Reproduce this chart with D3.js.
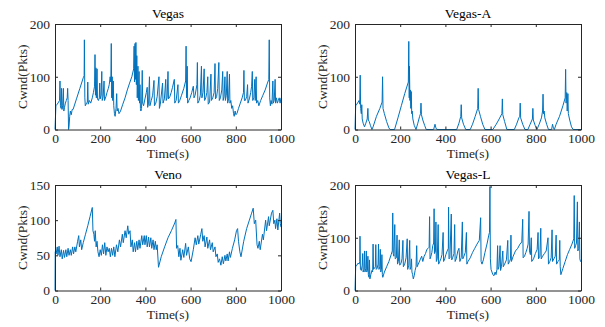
<!DOCTYPE html>
<html>
<head>
<meta charset="utf-8">
<script src="https://cdn.jsdelivr.net/npm/d3@7"></script>
<style>
  html, body { margin: 0; padding: 0; background: #fff; }
  svg { display: block; }
  svg text { font-family: 'Liberation Serif', 'Times New Roman', Times, serif; }
</style>
</head>
<body>
<div id="chart"></div>
<script>
// [time (s), cwnd (pkts)]
const vegas = [[0,0],[4,45],[10,48],[16,52],[20,55],[22,92],[24,45],[27,40],[29,78],[31,38],[34,45],[37,78],[39,35],[42,42],[46,50],[50,55],[54,60],[56,78],[58,55],[60,0],[62,5],[65,25],[68,35],[72,28],[76,38],[80,38],[95,58],[110,78],[125,98],[129,102],[130,170],[132,60],[134,45],[140,50],[143,52],[145,90],[147,48],[152,55],[158,50],[165,60],[170,70],[175,82],[177,142],[179,65],[181,117],[183,60],[186,115],[188,58],[192,55],[196,60],[198,88],[200,58],[204,65],[207,110],[209,55],[213,62],[217,92],[219,55],[225,62],[230,70],[236,78],[240,85],[244,100],[247,90],[249,163],[251,60],[253,100],[255,55],[258,92],[260,45],[263,30],[266,25],[270,40],[273,68],[275,35],[279,40],[283,30],[290,35],[300,48],[310,60],[320,75],[330,88],[340,100],[348,115],[350,158],[352,90],[354,163],[356,95],[358,165],[360,85],[362,140],[364,60],[367,120],[369,55],[372,110],[374,50],[376,85],[378,40],[380,35],[383,40],[386,112],[388,50],[392,45],[398,58],[404,70],[408,80],[410,42],[414,50],[418,100],[420,45],[426,55],[432,65],[438,93],[440,45],[446,50],[452,62],[460,100],[462,40],[466,48],[476,88],[478,50],[484,58],[490,95],[492,55],[496,60],[500,110],[502,58],[508,62],[514,70],[520,80],[528,95],[530,50],[536,55],[544,85],[546,50],[552,55],[560,65],[570,78],[578,92],[580,158],[582,60],[585,120],[587,50],[592,55],[598,60],[605,70],[612,82],[615,60],[620,65],[628,85],[630,127],[632,50],[638,55],[643,65],[648,120],[650,60],[655,70],[660,115],[662,55],[667,60],[672,70],[676,100],[678,48],[684,52],[690,105],[692,55],[698,60],[704,70],[708,125],[710,58],[715,62],[720,78],[725,127],[727,55],[732,60],[738,75],[742,110],[744,55],[748,62],[752,100],[754,55],[758,65],[762,110],[764,50],[768,58],[772,105],[774,50],[778,55],[782,40],[786,45],[790,30],[793,25],[797,35],[800,28],[805,30],[812,40],[820,50],[828,60],[834,70],[836,112],[838,55],[842,55],[848,62],[852,85],[854,50],[860,58],[866,70],[870,82],[873,110],[875,55],[880,60],[884,95],[886,55],[890,100],[892,50],[897,55],[902,45],[910,55],[920,65],[930,75],[940,88],[946,95],[948,170],[950,60],[953,45],[956,55],[960,48],[964,92],[966,50],[970,55],[974,95],[976,50],[980,60],[984,50],[988,55],[992,60],[996,50],[1000,60]];

const vegasA = [[0,0],[3,45],[8,48],[14,52],[18,55],[21,48],[23,103],[25,40],[28,30],[30,47],[32,20],[36,12],[42,5],[48,12],[54,20],[57,40],[59,18],[63,15],[68,8],[75,0],[80,5],[95,25],[110,40],[120,52],[122,100],[124,40],[130,30],[140,15],[150,3],[155,0],[175,0],[190,22],[205,45],[220,68],[236,90],[238,167],[240,60],[241,120],[243,55],[245,75],[247,40],[249,72],[251,30],[253,35],[256,20],[262,8],[270,0],[278,12],[286,25],[290,30],[292,50],[294,28],[300,18],[308,8],[315,0],[348,0],[354,10],[358,3],[362,0],[450,0],[460,12],[468,25],[470,47],[472,22],[480,10],[490,0],[510,0],[520,10],[532,25],[543,40],[545,78],[547,38],[555,25],[565,10],[575,0],[610,0],[625,10],[638,20],[650,30],[652,58],[654,28],[662,15],[672,0],[705,0],[715,10],[725,22],[729,25],[731,50],[733,22],[742,10],[752,0],[765,0],[775,10],[785,20],[787,40],[789,18],[797,8],[805,0],[815,10],[825,22],[830,35],[832,67],[834,30],[837,35],[840,22],[848,10],[856,0],[870,0],[874,10],[878,3],[882,0],[890,10],[905,25],[920,45],[930,60],[932,114],[934,50],[937,70],[939,35],[942,68],[944,30],[950,18],[958,5],[965,0],[1000,0]];

const veno = [[0,0],[1,55],[5,52],[10,62],[13,50],[18,63],[22,48],[28,58],[32,45],[38,57],[42,47],[48,58],[52,48],[58,60],[62,50],[68,58],[72,50],[78,62],[82,52],[88,62],[92,55],[100,70],[105,78],[108,62],[114,72],[118,58],[125,68],[135,80],[145,92],[155,105],[165,118],[168,85],[172,80],[175,70],[178,85],[182,62],[186,70],[190,55],[195,48],[200,58],[205,50],[210,65],[215,52],[220,68],[225,50],[230,62],[235,55],[240,60],[245,48],[250,60],[255,50],[260,62],[265,48],[272,65],[278,55],[285,72],[290,62],[298,80],[302,68],[310,85],[315,75],[322,92],[326,80],[332,85],[336,62],[342,72],[346,55],[352,68],[356,55],[362,70],[366,58],[372,72],[376,60],[384,78],[388,65],[395,78],[398,65],[404,78],[408,62],[414,76],[418,62],[424,75],[428,60],[434,72],[438,58],[444,70],[448,58],[452,65],[458,33],[470,48],[485,62],[500,75],[515,85],[530,96],[535,101],[538,60],[543,64],[548,48],[553,60],[557,43],[565,58],[570,47],[578,67],[582,50],[590,62],[596,45],[602,41],[612,58],[620,75],[625,65],[632,78],[636,66],[645,80],[650,88],[654,70],[660,78],[664,62],[672,76],[676,60],[684,72],[688,58],[696,68],[700,55],[708,62],[712,48],[718,52],[722,40],[728,45],[734,36],[740,48],[745,38],[752,50],[756,42],[762,52],[766,42],[772,55],[776,47],[785,60],[795,72],[803,85],[808,88],[812,70],[818,55],[823,48],[835,70],[848,88],[860,100],[870,110],[877,117],[882,95],[888,100],[894,65],[898,60],[904,70],[908,58],[918,80],[922,72],[932,100],[936,85],[945,105],[948,92],[958,110],[964,114],[968,95],[973,100],[976,88],[982,102],[986,86],[994,110],[997,95],[1000,90]];

const vegasL = [[0,0],[3,45],[8,48],[14,52],[18,50],[21,55],[22,103],[24,40],[28,38],[32,48],[34,70],[36,35],[40,40],[42,75],[44,35],[48,42],[50,75],[52,35],[55,38],[57,65],[59,30],[62,25],[64,58],[66,22],[70,30],[75,38],[78,35],[80,88],[82,40],[86,42],[90,45],[92,87],[94,40],[98,42],[102,50],[104,88],[106,40],[110,45],[112,78],[114,35],[117,40],[119,68],[121,30],[123,25],[130,35],[140,45],[150,55],[160,68],[165,75],[167,147],[169,70],[172,65],[176,125],[178,60],[183,62],[186,105],[188,50],[192,55],[196,96],[198,48],[204,52],[208,60],[212,95],[214,45],[220,50],[226,62],[231,98],[233,40],[238,48],[242,95],[244,40],[248,45],[250,60],[252,35],[255,30],[258,22],[262,28],[266,38],[270,45],[273,85],[275,45],[280,50],[288,58],[295,65],[300,55],[306,65],[312,70],[318,78],[324,80],[328,82],[330,140],[332,60],[336,65],[340,72],[344,85],[348,90],[350,155],[352,70],[356,75],[358,130],[360,55],[364,60],[368,125],[370,50],[375,55],[380,60],[385,68],[390,110],[392,55],[397,60],[402,68],[408,75],[413,80],[414,158],[416,60],[420,62],[426,145],[428,58],[432,62],[438,70],[441,125],[443,55],[448,60],[455,75],[460,80],[464,55],[470,62],[475,130],[477,60],[482,65],[488,72],[493,110],[495,50],[500,55],[510,62],[520,72],[530,80],[540,88],[550,95],[556,138],[558,55],[562,50],[568,58],[575,72],[585,90],[592,105],[595,110],[597,197],[599,60],[602,40],[606,35],[610,30],[615,28],[620,35],[624,30],[628,40],[631,85],[633,40],[637,45],[642,85],[644,38],[648,45],[654,75],[656,45],[662,50],[670,58],[676,95],[678,50],[684,55],[688,60],[690,105],[692,55],[700,65],[710,75],[720,80],[730,88],[738,92],[742,135],[744,62],[750,65],[756,72],[762,80],[766,88],[770,150],[772,75],[776,68],[780,100],[782,55],[790,60],[798,70],[806,78],[810,110],[812,60],[818,65],[822,118],[824,60],[830,65],[838,70],[846,75],[854,100],[856,50],[862,55],[868,62],[872,115],[874,55],[880,60],[886,65],[890,105],[892,50],[898,55],[904,58],[906,95],[908,45],[911,30],[920,42],[930,55],[940,68],[950,78],[960,88],[968,98],[970,180],[972,80],[976,85],[980,90],[984,168],[986,75],[990,80],[993,130],[995,60],[998,55],[1000,55]];

const titles = ['Vegas', 'Vegas-A', 'Veno', 'Vegas-L'];
const xTicks = [0, 200, 400, 600, 800, 1000];
const yTicksA = [0, 100, 200];
const yTicksB = [0, 50, 100, 150];

const width = 605, height = 327;
const axisColor = '#262626';
const lineColor = '#0072BD';

const panels = [
  { title: titles[0], data: vegas,  yMax: 200, yTicks: yTicksA, left: 55,  right: 281, top: 24,  bottom: 129.5 },
  { title: titles[1], data: vegasA, yMax: 200, yTicks: yTicksA, left: 355, right: 581, top: 24,  bottom: 129.5 },
  { title: titles[2], data: veno,   yMax: 150, yTicks: yTicksB, left: 55,  right: 281, top: 185, bottom: 290.5 },
  { title: titles[3], data: vegasL, yMax: 200, yTicks: yTicksA, left: 355, right: 581, top: 185, bottom: 290.5 }
];

const svg = d3.select('#chart')
  .append('svg')
  .attr('width', width)
  .attr('height', height);

panels.forEach(p => {
  const x = d3.scaleLinear().domain([0, 1000]).range([p.left, p.right]);
  const y = d3.scaleLinear().domain([0, p.yMax]).range([p.bottom, p.top]);
  const g = svg.append('g');

  // data line
  g.append('path')
    .datum(p.data)
    .attr('fill', 'none')
    .attr('stroke', lineColor)
    .attr('stroke-width', 1)
    .attr('stroke-linejoin', 'round')
    .attr('d', d3.line().x(d => x(d[0])).y(d => y(d[1])));

  const styleAxis = sel => {
    sel.attr('font-family', null).attr('font-size', null);
    sel.select('.domain').attr('stroke', axisColor);
    sel.selectAll('.tick line').attr('stroke', axisColor);
    sel.selectAll('.tick text')
      .attr('fill', axisColor)
      .style('font-size', '13.5px');
  };

  // inward ticks, box on
  g.append('g')
    .attr('transform', `translate(0,${p.bottom})`)
    .call(d3.axisBottom(x).tickValues(xTicks).tickFormat(d3.format('d')).tickSize(-3).tickSizeOuter(0).tickPadding(4))
    .call(styleAxis);
  g.append('g')
    .attr('transform', `translate(0,${p.top})`)
    .call(d3.axisTop(x).tickValues(xTicks).tickSize(-3).tickSizeOuter(0).tickFormat(''))
    .call(styleAxis);
  g.append('g')
    .attr('transform', `translate(${p.left},0)`)
    .call(d3.axisLeft(y).tickValues(p.yTicks).tickFormat(d3.format('d')).tickSize(-3).tickSizeOuter(0).tickPadding(5))
    .call(styleAxis);
  g.append('g')
    .attr('transform', `translate(${p.right},0)`)
    .call(d3.axisRight(y).tickValues(p.yTicks).tickSize(-3).tickSizeOuter(0).tickFormat(''))
    .call(styleAxis);

  // title
  g.append('text')
    .attr('x', (p.left + p.right) / 2)
    .attr('y', p.top - 6.5)
    .attr('text-anchor', 'middle')
    .style('font-size', '13.5px')
    .attr('fill', '#000')
    .text(p.title);

  // x label
  g.append('text')
    .attr('x', (p.left + p.right) / 2)
    .attr('y', p.bottom + 28)
    .attr('text-anchor', 'middle')
    .style('font-size', '13.5px')
    .attr('fill', axisColor)
    .text('Time(s)');

  // y label
  g.append('text')
    .attr('transform', `translate(${p.left - 28},${(p.top + p.bottom) / 2}) rotate(-90)`)
    .attr('text-anchor', 'middle')
    .style('font-size', '13.5px')
    .attr('fill', axisColor)
    .text('Cwnd(Pkts)');
});
</script>
</body>
</html>
